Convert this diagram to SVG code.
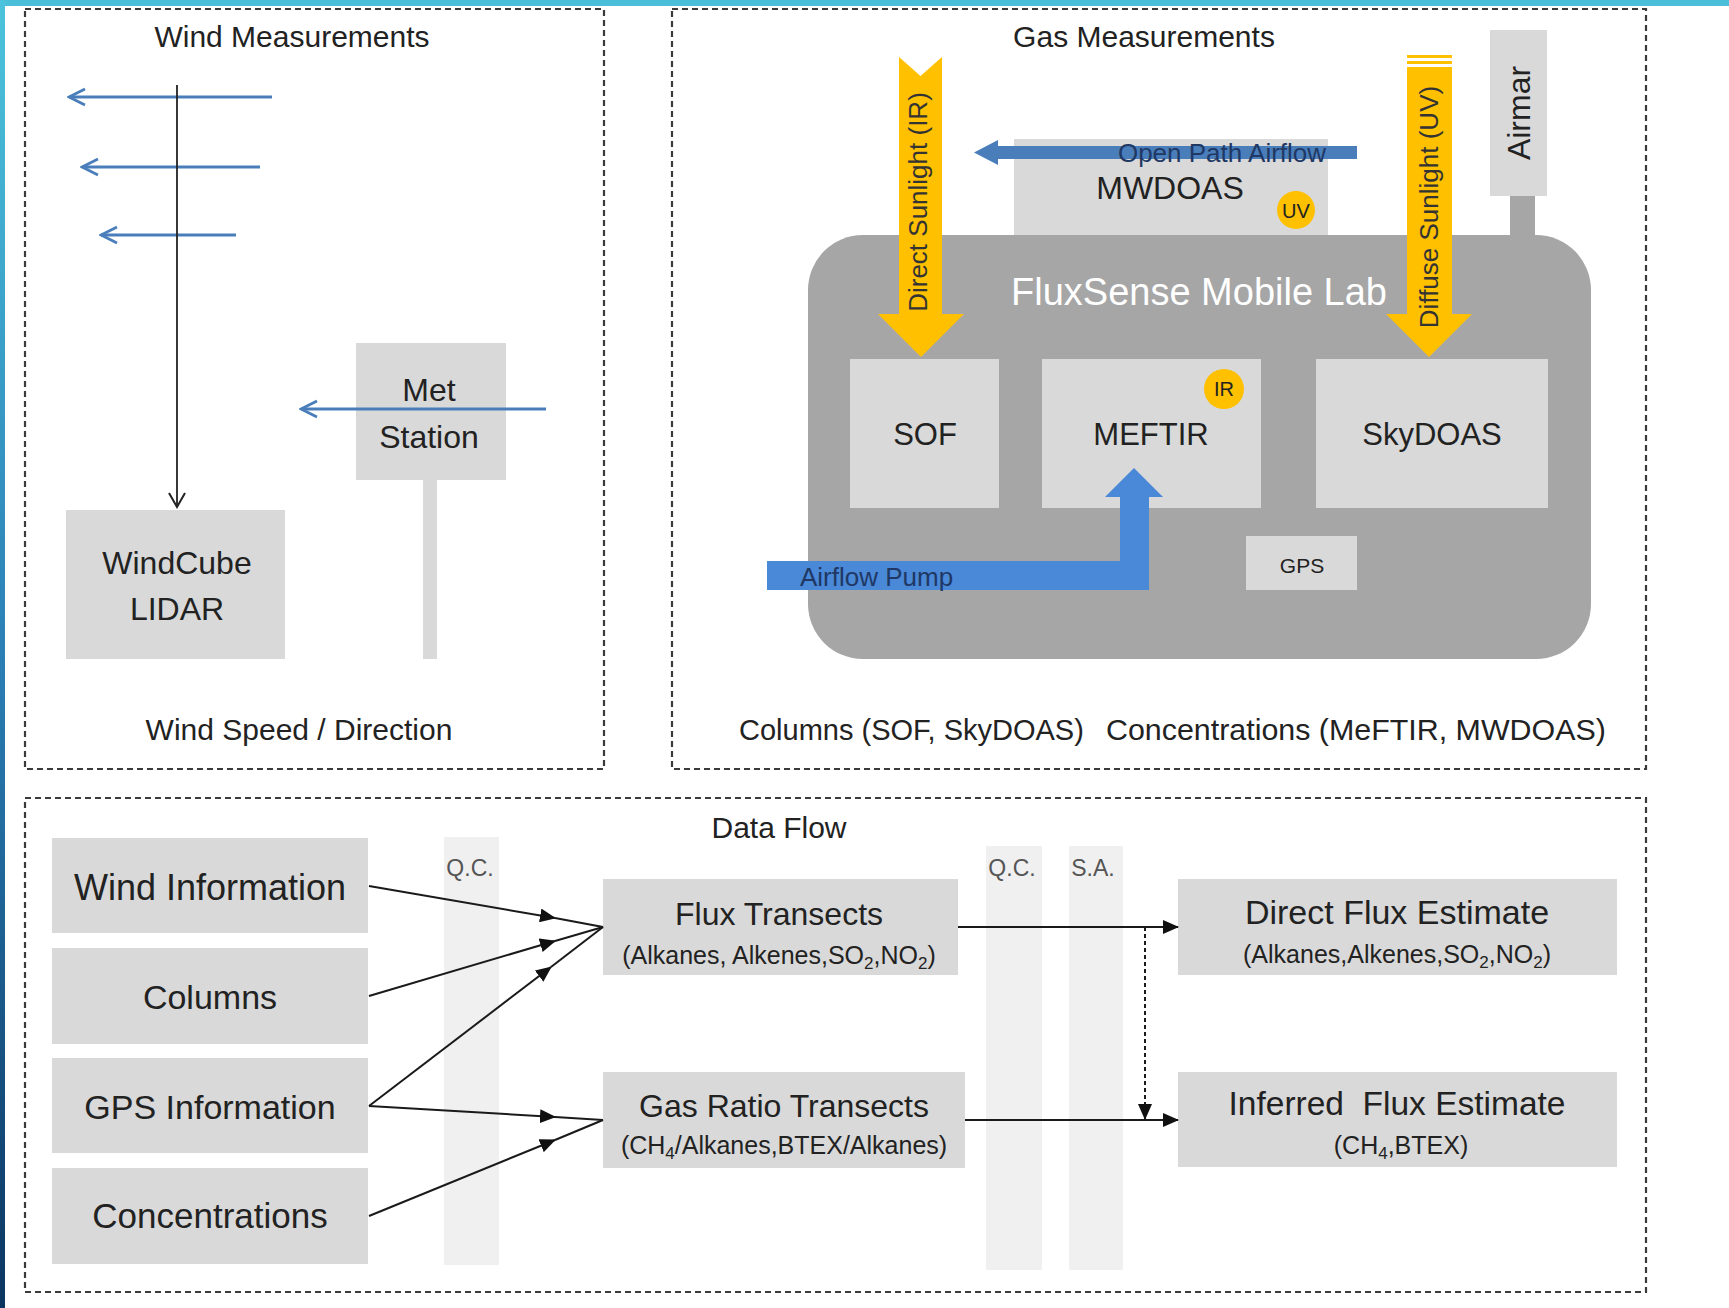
<svg xmlns="http://www.w3.org/2000/svg" width="1729" height="1308" viewBox="0 0 1729 1308">
<defs>
<linearGradient id="lbar" x1="0" y1="0" x2="0" y2="1">
<stop offset="0" stop-color="#4cc3dc"/>
<stop offset="0.5" stop-color="#2a7fb5"/>
<stop offset="1" stop-color="#0b3561"/>
</linearGradient>
<marker id="bvhead" viewBox="0 0 20 20" refX="18" refY="10" markerWidth="20" markerHeight="20" markerUnits="userSpaceOnUse" orient="auto">
<path d="M2,2 L18,10 L2,18" fill="none" stroke="#4a7ebb" stroke-width="2.8"/>
</marker>
<marker id="kvhead" viewBox="0 0 20 20" refX="18" refY="10" markerWidth="20" markerHeight="20" markerUnits="userSpaceOnUse" orient="auto">
<path d="M4,2 L18,10 L4,18" fill="none" stroke="#222" stroke-width="2"/>
</marker>
<marker id="tri" viewBox="0 0 16 14" refX="15" refY="7" markerWidth="16" markerHeight="14" markerUnits="userSpaceOnUse" orient="auto">
<path d="M0,0 L16,7 L0,14 Z" fill="#111"/>
</marker>
</defs>
<style>
.panel{fill:none;stroke:#3a3a3a;stroke-width:2.2;stroke-dasharray:6 4}
.box{fill:#d9d9d9}
.band{fill:#f0f0f0}
.lab{fill:#a6a6a6}
.sun{fill:#ffc000}
.blue{fill:#4a7ebb}
.blue2{fill:#4a88d8}
.t{font-family:"Liberation Sans",Arial,sans-serif;fill:#222;text-anchor:middle}
.wl{stroke:#4a7ebb;stroke-width:2.8;fill:none}
.k{stroke:#1a1a1a;stroke-width:2;fill:none}
</style>
<rect x="0" y="0" width="1729" height="1308" fill="#ffffff"/>
<rect x="0" y="0" width="1729" height="6" fill="#4bbfd9"/>
<rect x="0" y="0" width="5" height="1308" fill="url(#lbar)"/>

<g id="panel-wind">
<rect class="panel" x="25" y="9" width="579" height="760"/>
<text class="t" x="292" y="47" font-size="30">Wind Measurements</text>
<text class="t" x="299" y="740" font-size="30">Wind Speed / Direction</text>
</g>
<g id="panel-gas">
<rect class="panel" x="672" y="9" width="974" height="760"/>
<text class="t" x="1144" y="47" font-size="30">Gas Measurements</text>
<text class="t" x="739" y="740" font-size="29" style="text-anchor:start">Columns (SOF, SkyDOAS)</text>
<text class="t" x="1106" y="740" font-size="30.4" style="text-anchor:start">Concentrations (MeFTIR, MWDOAS)</text>
</g>
<g id="panel-data">
<rect class="panel" x="25" y="798" width="1621" height="494"/>
<text class="t" x="779" y="838" font-size="30">Data Flow</text>
</g>

<g id="met-station">
<rect class="box" x="423" y="480" width="14" height="179"/>
<rect class="box" x="356" y="343" width="150" height="137"/>
<text class="t" x="429" y="401" font-size="32">Met</text>
<text class="t" x="429" y="448" font-size="32">Station</text>
</g>
<g id="windcube">
<rect class="box" x="66" y="510" width="219" height="149"/>
<text class="t" x="177" y="574" font-size="32">WindCube</text>
<text class="t" x="177" y="620" font-size="32">LIDAR</text>
</g>

<g id="airmar">
<rect class="lab" x="1510" y="190" width="25" height="60"/>
<rect class="box" x="1490" y="30" width="57" height="166"/>
<text class="t" x="1519" y="124" font-size="32" transform="rotate(-90 1519 113)">Airmar</text>
</g>
<g id="mwdoas">
<rect class="box" x="1014" y="139" width="314" height="110"/>
<text class="t" x="1170" y="199" font-size="32">MWDOAS</text>
<circle cx="1296" cy="210" r="19" fill="#ffc000"/>
<text class="t" x="1296" y="218" font-size="20">UV</text>
</g>
<g id="mobile-lab">
<rect class="lab" x="808" y="235" width="783" height="424" rx="55" ry="55"/>
<text class="t" x="1199" y="305" font-size="38" style="fill:#ffffff">FluxSense Mobile Lab</text>
</g>
<g id="sof">
<rect class="box" x="850" y="359" width="149" height="149"/>
<text class="t" x="925" y="445" font-size="31">SOF</text>
</g>
<g id="meftir">
<rect class="box" x="1042" y="359" width="219" height="149"/>
<text class="t" x="1151" y="445" font-size="31">MEFTIR</text>
<circle cx="1224" cy="389" r="20" fill="#ffc000"/>
<text class="t" x="1224" y="396" font-size="20">IR</text>
</g>
<g id="skydoas">
<rect class="box" x="1316" y="359" width="232" height="149"/>
<text class="t" x="1432" y="445" font-size="31">SkyDOAS</text>
</g>
<g id="gps">
<rect class="box" x="1246" y="536" width="111" height="54"/>
<text class="t" x="1302" y="573" font-size="21">GPS</text>
</g>
<g id="direct-sunlight">
<polygon class="sun" points="899,57 920.5,76 942,57 942,314 964,314 921,357 878,314 899,314"/>
<text class="t" x="920" y="209" font-size="26" style="fill:#333" transform="rotate(-90 920 202)">Direct Sunlight (IR)</text>
</g>
<g id="diffuse-sunlight">
<rect class="sun" x="1407" y="55" width="45" height="3"/>
<rect class="sun" x="1407" y="61" width="45" height="3"/>
<polygon class="sun" points="1407,67 1452,67 1452,314 1472,314 1429,357 1386,314 1407,314"/>
<text class="t" x="1429" y="216" font-size="26" style="fill:#333" transform="rotate(-90 1429 207)">Diffuse Sunlight (UV)</text>
</g>
<g id="open-path-airflow">
<polygon class="blue" points="1357,146 998,146 998,140 974,152.5 998,165 998,159 1357,159"/>
<text class="t" x="1222" y="162" font-size="26" style="fill:#1f3864">Open Path Airflow</text>
</g>
<g id="airflow-pump">
<polygon class="blue2" points="767,561 1120,561 1120,497 1105,497 1134,468 1163,497 1149,497 1149,590 767,590"/>
<text class="t" x="800" y="586" font-size="26" style="fill:#1f3864;text-anchor:start">Airflow Pump</text>
</g>

<g id="bands">
<rect class="band" x="444" y="837" width="55" height="428"/>
<rect class="band" x="986" y="846" width="56" height="424"/>
<rect class="band" x="1069" y="846" width="54" height="424"/>
<text class="t" x="470" y="876" font-size="23" style="fill:#555">Q.C.</text>
<text class="t" x="1012" y="876" font-size="23" style="fill:#555">Q.C.</text>
<text class="t" x="1093" y="876" font-size="23" style="fill:#555">S.A.</text>
</g>
<g id="wind-information">
<rect class="box" x="52" y="838" width="316" height="95"/>
<text class="t" x="210" y="900" font-size="36">Wind Information</text>
</g>
<g id="columns">
<rect class="box" x="52" y="948" width="316" height="96"/>
<text class="t" x="210" y="1009" font-size="34">Columns</text>
</g>
<g id="gps-information">
<rect class="box" x="52" y="1058" width="316" height="95"/>
<text class="t" x="210" y="1119" font-size="34">GPS Information</text>
</g>
<g id="concentrations">
<rect class="box" x="52" y="1168" width="316" height="96"/>
<text class="t" x="210" y="1228" font-size="35">Concentrations</text>
</g>
<g id="flux-transects">
<rect class="box" x="603" y="879" width="355" height="96"/>
<text class="t" x="779" y="925" font-size="32">Flux Transects</text>
<text class="t" x="779" y="964" font-size="25">(Alkanes, Alkenes,SO<tspan dy="5" font-size="17">2</tspan><tspan dy="-5">,NO</tspan><tspan dy="5" font-size="17">2</tspan><tspan dy="-5">)</tspan></text>
</g>
<g id="gas-ratio-transects">
<rect class="box" x="603" y="1072" width="362" height="96"/>
<text class="t" x="784" y="1117" font-size="32">Gas Ratio Transects</text>
<text class="t" x="784" y="1154" font-size="25">(CH<tspan dy="5" font-size="17">4</tspan><tspan dy="-5">/Alkanes,BTEX/Alkanes)</tspan></text>
</g>
<g id="direct-flux">
<rect class="box" x="1178" y="879" width="439" height="96"/>
<text class="t" x="1397" y="924" font-size="34">Direct Flux Estimate</text>
<text class="t" x="1397" y="963" font-size="25">(Alkanes,Alkenes,SO<tspan dy="5" font-size="17">2</tspan><tspan dy="-5">,NO</tspan><tspan dy="5" font-size="17">2</tspan><tspan dy="-5">)</tspan></text>
</g>
<g id="inferred-flux">
<rect class="box" x="1178" y="1072" width="439" height="95"/>
<text class="t" x="1397" y="1115" font-size="33.5" xml:space="preserve">Inferred  Flux Estimate</text>
<text class="t" x="1401" y="1154" font-size="25">(CH<tspan dy="5" font-size="17">4</tspan><tspan dy="-5">,BTEX)</tspan></text>
</g>

<g id="connectors">
<line class="wl" x1="272" y1="97" x2="69" y2="97" marker-end="url(#bvhead)"/>
<line class="wl" x1="260" y1="167" x2="82" y2="167" marker-end="url(#bvhead)"/>
<line class="wl" x1="236" y1="235" x2="101" y2="235" marker-end="url(#bvhead)"/>
<line class="wl" x1="546" y1="409" x2="301" y2="409" marker-end="url(#bvhead)"/>
<line x1="177" y1="85" x2="177" y2="507" stroke="#222" stroke-width="1.8" marker-end="url(#kvhead)"/>

<path class="k" d="M369,886 L555,918" marker-end="url(#tri)"/>
<path class="k" d="M555,918 L603,927"/>
<path class="k" d="M369,996 L555,941" marker-end="url(#tri)"/>
<path class="k" d="M555,941 L603,927"/>
<path class="k" d="M369,1106 L551,967" marker-end="url(#tri)"/>
<path class="k" d="M551,967 L603,927"/>
<path class="k" d="M369,1106 L555,1117" marker-end="url(#tri)"/>
<path class="k" d="M555,1117 L603,1120"/>
<path class="k" d="M369,1216 L555,1140" marker-end="url(#tri)"/>
<path class="k" d="M555,1140 L603,1120"/>
<path class="k" d="M958,927 L1178,927" marker-end="url(#tri)"/>
<path class="k" d="M965,1120 L1178,1120" marker-end="url(#tri)"/>
<path class="k" d="M1145,927 L1145,1119" stroke-dasharray="4 3" marker-end="url(#tri)"/>
</g>
</svg>
